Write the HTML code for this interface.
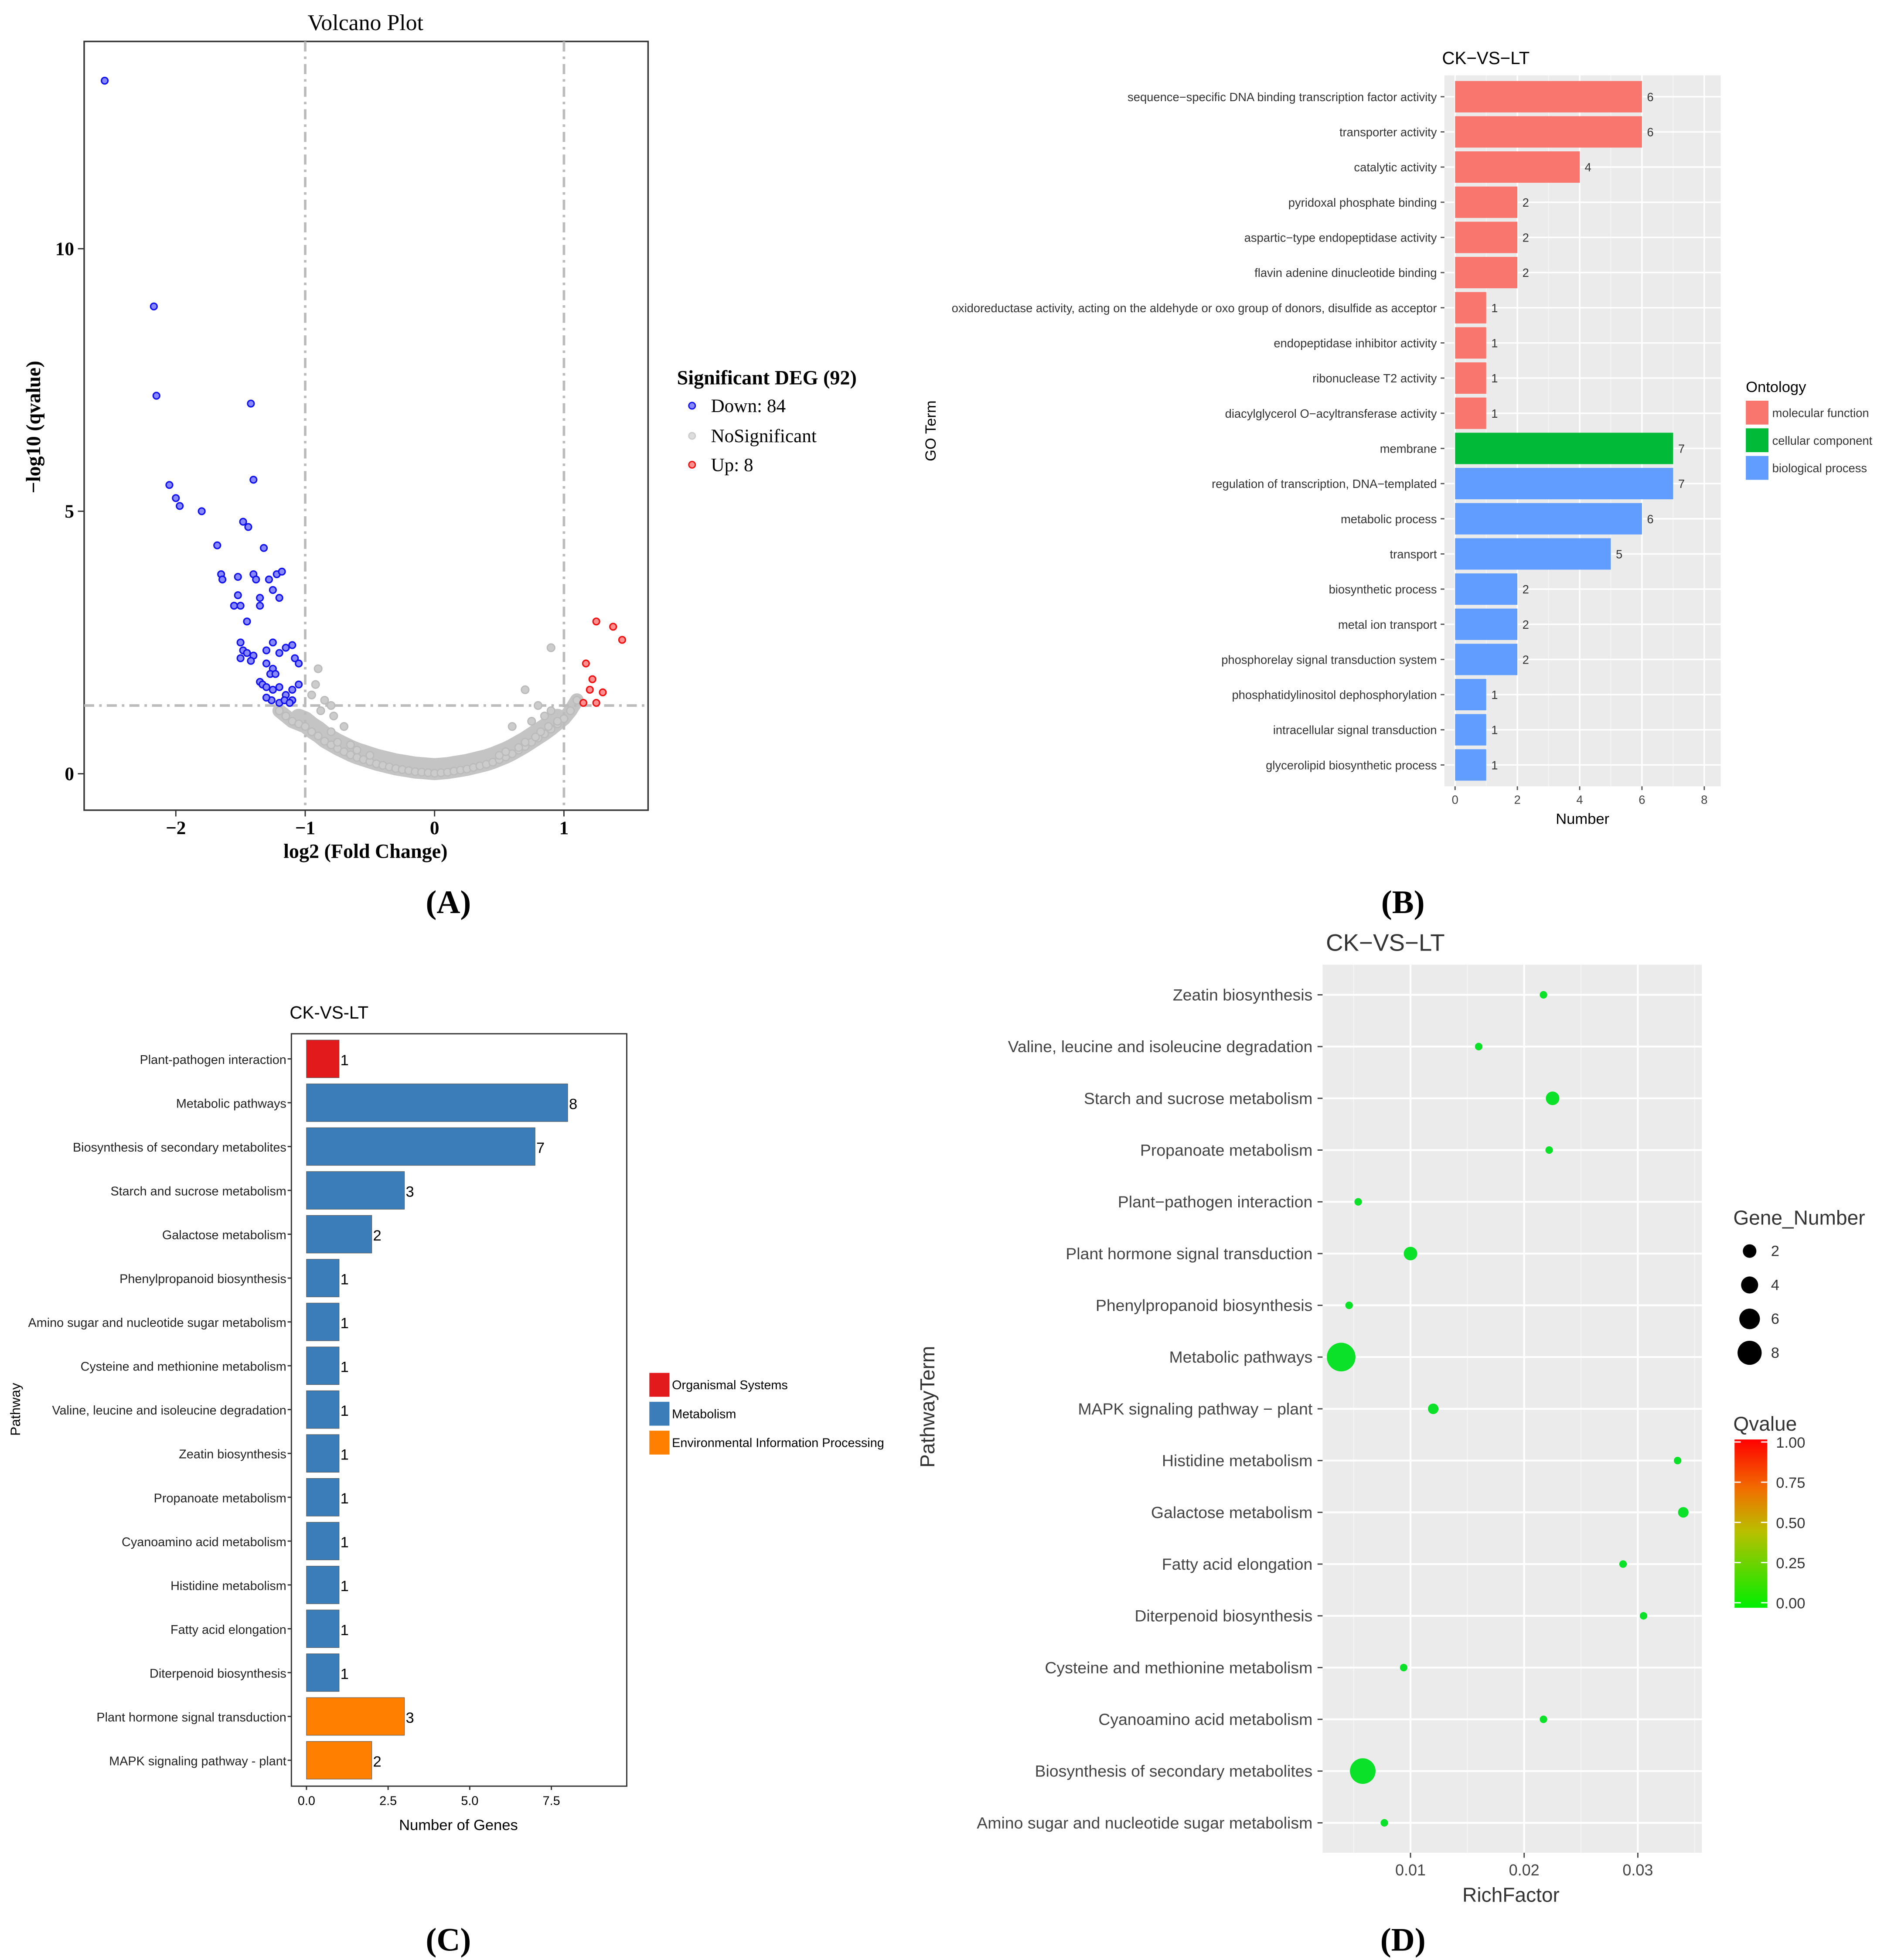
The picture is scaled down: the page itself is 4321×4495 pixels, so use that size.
<!DOCTYPE html>
<html><head><meta charset="utf-8">
<style>
html,body{margin:0;padding:0;background:#fff;}
svg{display:block;}
</style></head>
<body>
<svg id="fig" xmlns="http://www.w3.org/2000/svg" width="4321" height="4495" viewBox="0 0 1500 1560.4" font-family="Liberation Sans, sans-serif"></svg>
<script>
// ---------- Panel A data ----------
const downX=[-2.55,-2.17,-2.15,-1.42,-2.05,-2.0,-1.97,-1.8,-1.4,-1.48,-1.44,-1.68,-1.32,-1.65,-1.64,-1.52,-1.4,-1.38,-1.28,-1.22,-1.18,-1.25,-1.52,-1.35,-1.2,-1.55,-1.5,-1.35,-1.45,-1.25,-1.1,-1.5,-1.48,-1.45,-1.4,-1.3,-1.2,-1.15,-1.08,-1.05,-1.5,-1.42,-1.3,-1.25,-1.27,-1.35,-1.33,-1.3,-1.25,-1.2,-1.1,-1.05,-1.15,-1.1,-1.2,-1.26,-1.3,-1.16,-1.23,-1.12];
const downY=[13.2,8.9,7.2,7.05,5.5,5.25,5.1,5.0,5.6,4.8,4.7,4.35,4.3,3.8,3.7,3.75,3.8,3.7,3.7,3.8,3.85,3.5,3.4,3.35,3.35,3.2,3.2,3.2,2.9,2.5,2.45,2.5,2.35,2.3,2.25,2.35,2.3,2.4,2.2,2.1,2.2,2.15,2.1,2.0,1.9,1.75,1.7,1.65,1.6,1.65,1.6,1.7,1.5,1.4,1.35,1.4,1.45,1.4,1.9,1.35];
const upX=[1.17,1.22,1.2,1.3,1.25,1.15,1.38,1.25,1.45];
const upY=[2.1,1.8,1.6,1.55,1.35,1.35,2.8,2.9,2.55];
const nsX=[-1.2,-1.15,-1.1,-1.05,-1.0,-0.95,-0.9,-0.85,-0.8,-0.75,-0.7,-0.65,-0.6,-0.55,-0.5,-0.45,-0.4,-0.35,-0.3,-0.25,-0.2,-0.15,-0.1,-0.05,0,0.05,0.1,0.15,0.2,0.25,0.3,0.35,0.4,0.45,0.5,0.55,0.6,0.65,0.7,0.75,0.8,0.85,0.9,0.95,1.0,1.05,1.1,-0.95,-0.9,-0.85,-0.8,-0.78,-0.7,-0.92,-0.88,-0.8,0.6,0.7,0.75,0.8,0.85,0.9,0.95,0.9,0.82,-0.75,-0.65,-0.6,-0.5,0.5,0.55,0.65,0.7,0.78,0.88];
const nsY=[1.2,1.1,1.0,0.95,0.9,0.8,0.72,0.62,0.55,0.48,0.42,0.36,0.31,0.27,0.23,0.19,0.16,0.13,0.1,0.08,0.06,0.04,0.03,0.02,0.01,0.02,0.03,0.05,0.07,0.09,0.12,0.15,0.18,0.22,0.27,0.32,0.38,0.45,0.52,0.6,0.68,0.76,0.85,0.95,1.05,1.2,1.4,1.5,2.0,1.4,1.3,1.1,0.9,1.7,1.2,0.8,0.9,1.6,1.0,1.3,1.1,1.2,1.0,2.4,0.8,0.6,0.55,0.45,0.35,0.35,0.42,0.5,0.6,0.7,0.9];
const aXTicks=[-2,-1,0,1];
const aYTicks=[0,5,10];

// ---------- Panel B data ----------
const goTerms=["sequence−specific DNA binding transcription factor activity","transporter activity","catalytic activity","pyridoxal phosphate binding","aspartic−type endopeptidase activity","flavin adenine dinucleotide binding","oxidoreductase activity, acting on the aldehyde or oxo group of donors, disulfide as acceptor","endopeptidase inhibitor activity","ribonuclease T2 activity","diacylglycerol O−acyltransferase activity","membrane","regulation of transcription, DNA−templated","metabolic process","transport","biosynthetic process","metal ion transport","phosphorelay signal transduction system","phosphatidylinositol dephosphorylation","intracellular signal transduction","glycerolipid biosynthetic process"];
const goCounts=[6,6,4,2,2,2,1,1,1,1,7,7,6,5,2,2,2,1,1,1];
const goClass=[0,0,0,0,0,0,0,0,0,0,1,2,2,2,2,2,2,2,2,2];
const goOntologies=["molecular function","cellular component","biological process"];
const bTicks=[0,2,4,6,8];

// ---------- Panel C data ----------
const cPathways=["Plant-pathogen interaction","Metabolic pathways","Biosynthesis of secondary metabolites","Starch and sucrose metabolism","Galactose metabolism","Phenylpropanoid biosynthesis","Amino sugar and nucleotide sugar metabolism","Cysteine and methionine metabolism","Valine, leucine and isoleucine degradation","Zeatin biosynthesis","Propanoate metabolism","Cyanoamino acid metabolism","Histidine metabolism","Fatty acid elongation","Diterpenoid biosynthesis","Plant hormone signal transduction","MAPK signaling pathway - plant"];
const cCounts=[1,8,7,3,2,1,1,1,1,1,1,1,1,1,1,3,2];
const cClass=[0,1,1,1,1,1,1,1,1,1,1,1,1,1,1,2,2];
const cClasses=["Organismal Systems","Metabolism","Environmental Information Processing"];
const cTicks=[0,2.5,5,7.5];
const cTickLabels=["0.0","2.5","5.0","7.5"];

// ---------- Panel D data ----------
const dPathways=["Zeatin biosynthesis","Valine, leucine and isoleucine degradation","Starch and sucrose metabolism","Propanoate metabolism","Plant−pathogen interaction","Plant hormone signal transduction","Phenylpropanoid biosynthesis","Metabolic pathways","MAPK signaling pathway − plant","Histidine metabolism","Galactose metabolism","Fatty acid elongation","Diterpenoid biosynthesis","Cysteine and methionine metabolism","Cyanoamino acid metabolism","Biosynthesis of secondary metabolites","Amino sugar and nucleotide sugar metabolism"];
const dRich=[0.0217,0.016,0.0225,0.0222,0.0054,0.010,0.0046,0.0039,0.012,0.0335,0.034,0.0287,0.0305,0.0094,0.0217,0.0058,0.0077];
const dGenes=[1,1,3,1,1,3,1,8,2,1,2,1,1,1,1,7,1];
const dQ=[0.02,0.02,0.02,0.02,0.02,0.02,0.02,0.02,0.02,0.02,0.02,0.02,0.02,0.02,0.02,0.02,0.02];
const dTicks=[0.01,0.02,0.03];
const dLegendSizes=[2,4,6,8];
const dQTicks=["1.00","0.75","0.50","0.25","0.00"];

const NS="http://www.w3.org/2000/svg";
const svg=document.getElementById('fig');
function mk(tag,attrs,parent,text){const e=document.createElementNS(NS,tag);for(const k in attrs)e.setAttribute(k,attrs[k]);if(text!==undefined)e.textContent=text;(parent||svg).appendChild(e);return e;}
function txt(x,y,s,size,opts,parent){const o=Object.assign({x:x,y:y,'font-size':size},opts||{});return mk('text',o,parent,s);}

// ===== Panel A =====
const gA=mk('g',{});


const ax=v=>346+v*103, ay=v=>616-v*41.8;
const serif={'font-family':'Liberation Serif, serif'};
let t=txt(291,24,'Volcano Plot',18,Object.assign({'text-anchor':'middle'},serif),gA);


let fr=mk('rect',{x:67,y:33,width:449,height:612,fill:'#fff',stroke:'#333','stroke-width':1.2},gA);


// dense gray cloud band along the main curve (first 47 points)
let pts=[];for(let i=0;i<47;i++)pts.push(ax(nsX[i])+','+ay(nsY[i]));
let band=mk('polyline',{points:pts.join(' '),fill:'none',stroke:'#c4c4c4','stroke-width':11,'stroke-linecap':'round','stroke-linejoin':'round'},gA);


let band2=mk('polyline',{points:pts.slice(3,44).join(' '),fill:'none',stroke:'#c4c4c4','stroke-width':14,'stroke-linecap':'round','stroke-linejoin':'round',transform:'translate(0,-5)'},gA);


[-1,1].forEach(v=>{const l=mk('line',{x1:ax(v),x2:ax(v),y1:33,y2:645,stroke:'#bbb','stroke-width':2,'stroke-dasharray':'8 4 2 4'},gA);

});
let hl=mk('line',{x1:67,x2:516,y1:ay(1.3),y2:ay(1.3),stroke:'#bbb','stroke-width':2,'stroke-dasharray':'8 4 2 4'},gA);


nsX.forEach((x,i)=>{const c=mk('circle',{cx:ax(x),cy:ay(nsY[i]),r:3,fill:'#ccc',stroke:'#bbb','stroke-width':1},gA);

});
downX.forEach((x,i)=>{const c=mk('circle',{cx:ax(x),cy:ay(downY[i]),r:2.6,fill:'#8888ff',stroke:'#1010ee','stroke-width':1.1},gA);

});
upX.forEach((x,i)=>{const c=mk('circle',{cx:ax(x),cy:ay(upY[i]),r:2.6,fill:'#ff9090',stroke:'#ee1010','stroke-width':1.1},gA);

});
aXTicks.forEach(v=>{mk('line',{x1:ax(v),x2:ax(v),y1:645,y2:650,stroke:'#333'},gA);
const tt=txt(ax(v),664,v<0?'−'+(-v):String(v),15,Object.assign({'text-anchor':'middle','font-weight':'bold'},serif),gA);

});
aYTicks.forEach(v=>{mk('line',{x1:62,x2:67,y1:ay(v),y2:ay(v),stroke:'#333'},gA);
const tt=txt(59,ay(v)+5,String(v),15,Object.assign({'text-anchor':'end','font-weight':'bold'},serif),gA);

});
t=txt(291,683,'log2 (Fold Change)',16,Object.assign({'text-anchor':'middle','font-weight':'bold'},serif),gA);


t=txt(0,0,'−log10 (qvalue)',16,Object.assign({'text-anchor':'middle','font-weight':'bold',transform:'translate(32,340) rotate(-90)'},serif),gA);


t=txt(539,306,'Significant DEG (92)',16,Object.assign({'font-weight':'bold'},serif),gA);


[['Down: 84','#8888ff','#1010ee',327],['NoSignificant','#ddd','#ccc',351],['Up: 8','#ff9090','#ee1010',374]].forEach(e=>{
const c=mk('circle',{cx:551,cy:e[3]-4,r:2.6,fill:e[1],stroke:e[2]},gA);


const tt=txt(566,e[3]+1,e[0],15,serif,gA);

});
t=txt(357,727,'(A)',26,Object.assign({'text-anchor':'middle','font-weight':'bold'},serif));



// ===== Panel B =====
const gB=mk('g',{});


const bx=v=>1158.5+v*24.8, by=i=>77+i*28;
const goColors=['#F8766D','#00BA38','#619CFF'];
let bg=mk('rect',{x:1150,y:60,width:220,height:566,fill:'#ebebeb'},gB);


bTicks.forEach(v=>{mk('line',{x1:bx(v),x2:bx(v),y1:60,y2:626,stroke:'#fff','stroke-width':1.2},gB);
if(v<8)mk('line',{x1:bx(v+1),x2:bx(v+1),y1:60,y2:626,stroke:'#f5f5f5','stroke-width':0.6},gB);
mk('line',{x1:bx(v),x2:bx(v),y1:626,y2:629,stroke:'#555'},gB);
const tt=txt(bx(v),640,String(v),9.5,{'text-anchor':'middle',fill:'#444'},gB);

});
goTerms.forEach((s,i)=>{mk('line',{x1:1150,x2:1370,y1:by(i),y2:by(i),stroke:'#fff','stroke-width':1.2},gB);
const r=mk('rect',{x:bx(0),y:by(i)-12.5,width:bx(goCounts[i])-bx(0),height:25,fill:goColors[goClass[i]]},gB);


const v=txt(bx(goCounts[i])+4,by(i)+3.5,String(goCounts[i]),9.5,{fill:'#333'},gB);


mk('line',{x1:1147,x2:1150,y1:by(i),y2:by(i),stroke:'#555'},gB);
const l=txt(1144,by(i)+3.5,s,9.5,{'text-anchor':'end',fill:'#333'},gB);

});
t=txt(1183,51,'CK−VS−LT',14,{'text-anchor':'middle'},gB);


t=txt(1260,656,'Number',12,{'text-anchor':'middle'},gB);


t=txt(0,0,'GO Term',12,{'text-anchor':'middle',transform:'translate(745,343) rotate(-90)'},gB);


t=txt(1390,312,'Ontology',12,{},gB);


goOntologies.forEach((s,i)=>{const r=mk('rect',{x:1390,y:319+i*22,width:18,height:19,fill:goColors[i]},gB);


const tt=txt(1411,332+i*22,s,9.5,{fill:'#333'},gB);

});
t=txt(1117,727,'(B)',26,Object.assign({'text-anchor':'middle','font-weight':'bold'},serif));



// ===== Panel C =====
const gC=mk('g',{});


const cx=v=>244+v*26, cy=i=>843+i*34.9;
const cColors=['#E31A1C','#3A7DB8','#FF7F00'];
let cf=mk('rect',{x:232,y:823,width:267,height:599,fill:'#fff',stroke:'#333','stroke-width':1},gC);


const nf={'font-family':'Liberation Sans Narrow, Liberation Sans, sans-serif'};
cPathways.forEach((s,i)=>{const r=mk('rect',{x:cx(0),y:cy(i)-15,width:cx(cCounts[i])-cx(0),height:30,fill:cColors[cClass[i]],stroke:'#555','stroke-width':0.4},gC);


const v=txt(cx(cCounts[i])+1,cy(i)+5,String(cCounts[i]),12,Object.assign({},nf),gC);


mk('line',{x1:229,x2:232,y1:cy(i),y2:cy(i),stroke:'#333'},gC);
const l=txt(228,cy(i)+4,s,10,Object.assign({'text-anchor':'end',fill:'#222'},nf),gC);

});
cTicks.forEach((v,i)=>{mk('line',{x1:cx(v),x2:cx(v),y1:1422,y2:1425,stroke:'#333'},gC);
const tt=txt(cx(v),1437,cTickLabels[i],10,Object.assign({'text-anchor':'middle'},nf),gC);

});
t=txt(262,811,'CK-VS-LT',14,Object.assign({'text-anchor':'middle'},nf),gC);


t=txt(365,1457,'Number of Genes',12,Object.assign({'text-anchor':'middle'},nf),gC);


t=txt(0,0,'Pathway',11,Object.assign({'text-anchor':'middle',transform:'translate(16,1122) rotate(-90)'},nf),gC);


cClasses.forEach((s,i)=>{const r=mk('rect',{x:517,y:1093+i*23,width:16,height:19,fill:cColors[i]},gC);


const tt=txt(535,1106+i*23,s,10,nf,gC);

});
t=txt(357,1553,'(C)',26,Object.assign({'text-anchor':'middle','font-weight':'bold'},serif));



// ===== Panel D =====
const gD=mk('g',{});


const dx=v=>1032.5+v*9050, dy=i=>792+i*41.2;
const rad=n=>3+(n-1)*1.2;
let dbg=mk('rect',{x:1053,y:768,width:302,height:707,fill:'#ebebeb'},gD);


[0.005,0.015,0.025,0.035].forEach(v=>{if(dx(v)>1053&&dx(v)<1355)mk('line',{x1:dx(v),x2:dx(v),y1:768,y2:1475,stroke:'#f4f4f4','stroke-width':0.8},gD);});
dTicks.forEach(v=>{mk('line',{x1:dx(v),x2:dx(v),y1:768,y2:1475,stroke:'#fff','stroke-width':1.5},gD);
mk('line',{x1:dx(v),x2:dx(v),y1:1475,y2:1479,stroke:'#444'},gD);
const tt=txt(dx(v),1493,String(v),12.5,{'text-anchor':'middle',fill:'#444'},gD);

});
dPathways.forEach((s,i)=>{mk('line',{x1:1053,x2:1355,y1:dy(i),y2:dy(i),stroke:'#fff','stroke-width':1.5},gD);
mk('line',{x1:1049,x2:1053,y1:dy(i),y2:dy(i),stroke:'#444'},gD);
const l=txt(1045,dy(i)+4.5,s,13,{'text-anchor':'end',fill:'#444'},gD);

});
dPathways.forEach((s,i)=>{const col='rgb('+Math.round(255*dQ[i]*2)+',225,40)';
const c=mk('circle',{cx:dx(dRich[i]),cy:dy(i),r:rad(dGenes[i]),fill:col},gD);

});
t=txt(1103,757,'CK−VS−LT',19,{'text-anchor':'middle',fill:'#333'},gD);


t=txt(1203,1514,'RichFactor',16,{'text-anchor':'middle',fill:'#333'},gD);


t=txt(0,0,'PathwayTerm',16,{'text-anchor':'middle',fill:'#333',transform:'translate(744,1120) rotate(-90)'},gD);


t=txt(1380,975,'Gene_Number',16,{fill:'#333'},gD);


dLegendSizes.forEach((n,i)=>{const c=mk('circle',{cx:1393,cy:996+i*27,r:4+n*0.7,fill:'#000'},gD);


const tt=txt(1410,1000+i*27,String(n),12,{fill:'#333'},gD);

});
t=txt(1380,1139,'Qvalue',16,{fill:'#333'},gD);


const defs=mk('defs',{},svg);
const lg=mk('linearGradient',{id:'qg',x1:0,y1:0,x2:0,y2:1},defs);
mk('stop',{offset:'0',   'stop-color':'#ff0000'},lg);
mk('stop',{offset:'0.3','stop-color':'#f07000'},lg);
mk('stop',{offset:'0.55','stop-color':'#b8c000'},lg);
mk('stop',{offset:'1','stop-color':'#00ee00'},lg);
let cb=mk('rect',{x:1381,y:1146,width:26,height:134,fill:'url(#qg)'},gD);


dQTicks.forEach((s,i)=>{const y=1148+i*32;
mk('line',{x1:1381,x2:1386,y1:y,y2:y,stroke:'#fff'},gD);mk('line',{x1:1402,x2:1407,y1:y,y2:y,stroke:'#fff'},gD);
const tt=txt(1414,y+4.5,s,12,{fill:'#333'},gD);

});
t=txt(1117,1553,'(D)',26,Object.assign({'text-anchor':'middle','font-weight':'bold'},serif));


</script>
</body></html>
